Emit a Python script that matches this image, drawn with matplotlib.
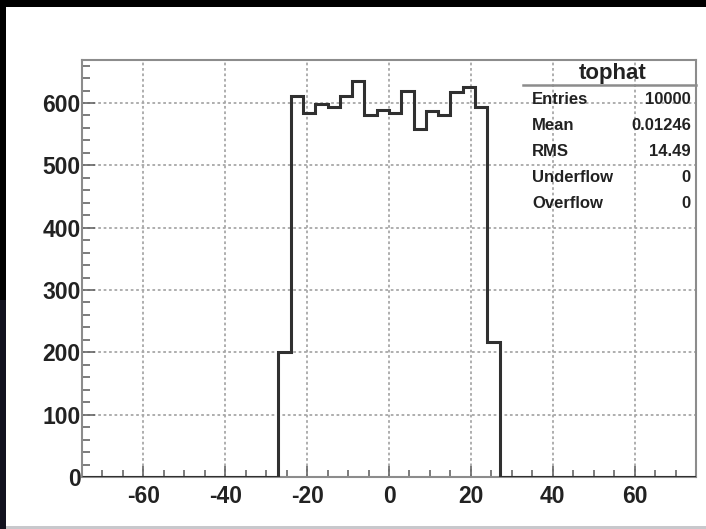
import numpy as np
import matplotlib
matplotlib.use("Agg")
import matplotlib.pyplot as plt
from matplotlib.patches import Rectangle
from matplotlib.lines import Line2D

# ---------------- data ----------------
x_range = (-75, 75)
bin_width = 3
# counts of the non-empty bins from -27 to 27 (18 bins of width 3)
core_counts = [200, 611, 584, 598, 594, 611, 636, 580, 588,
               584, 620, 559, 587, 581, 618, 626, 594, 216]
n_empty_left = 16
n_empty_right = 16
hist_name = "tophat"
stat_labels = ["Entries", "Mean", "RMS", "Underflow", "Overflow"]
stat_values = ["10000", "0.01246", "14.49", "0", "0"]
x_ticks = [-60, -40, -20, 0, 20, 40, 60]
y_ticks = [0, 100, 200, 300, 400, 500, 600]

counts = [0] * n_empty_left + core_counts + [0] * n_empty_right
edges = np.arange(x_range[0], x_range[1] + bin_width, bin_width)

# ---------------- figure ----------------
W, H = 706, 529
fig = plt.figure(figsize=(W / 100, H / 100), dpi=100)
fig.patch.set_facecolor("#000000")

def px_rect(x0, y0, x1, y1, color):
    fig.patches.append(Rectangle((x0 / W, 1 - y1 / H), (x1 - x0) / W, (y1 - y0) / H,
                                 transform=fig.transFigure, facecolor=color,
                                 edgecolor="none", zorder=-10))

px_rect(0, 300, 6, 529, "#12121f")
px_rect(6, 7, 706, 529, "#ffffff")
px_rect(6, 526, 706, 529, "#c8c8cc")

ax_l, ax_r, ax_t, ax_b = 82, 696, 60, 477
ax = fig.add_axes([ax_l / W, 1 - ax_b / H, (ax_r - ax_l) / W, (ax_b - ax_t) / H])
ax.set_facecolor("white")

ax.stairs(counts, edges, color="#303030", linewidth=2.2, zorder=3)

ax.set_xlim(x_range)
ax.set_ylim(0, 669)

ax.set_xticks(x_ticks)
ax.set_xticks(np.arange(-75, 76, 5), minor=True)
ax.set_yticks(y_ticks)
ax.set_yticks(np.arange(0, 669, 20), minor=True)

ax.grid(True, which="major", linestyle=(0, (1.5, 1.5)), linewidth=1.3, color="#a8a8a8", zorder=1)

tick_font = dict(family="Liberation Sans", weight="bold", size=16.5)
ax.set_xticklabels([str(v) for v in x_ticks], **tick_font, color="#222222")
ax.set_yticklabels([str(v) for v in y_ticks], **tick_font, color="#222222")

ax.tick_params(axis="x", which="major", direction="in", length=8, width=1.2, color="#666666", pad=6)
ax.tick_params(axis="x", which="minor", direction="in", length=5, width=1.2, color="#666666")
ax.tick_params(axis="y", which="major", direction="in", length=9, width=1.2, color="#666666", pad=1)
ax.tick_params(axis="y", which="minor", direction="in", length=6, width=1.2, color="#666666")

for s in ax.spines.values():
    s.set_color("#8c8c8c")
    s.set_linewidth(1.5)

# ---------------- stats box ----------------
def fx(px):
    return px / W

def fy(py):
    return 1 - py / H

fig.text(fx(613), fy(73), hist_name, ha="center", va="center",
         family="Liberation Sans", weight="bold", size=16, color="#222222")
fig.lines.append(Line2D([fx(523), fx(696)], [fy(85), fy(85)], transform=fig.transFigure,
                        color="#8c8c8c", linewidth=1.8))
row_y = [100, 126, 151, 177, 203]
for lab, val, yy in zip(stat_labels, stat_values, row_y):
    fig.text(fx(532), fy(yy), lab, ha="left", va="center",
             family="Liberation Sans", weight="bold", size=12, color="#222222")
    fig.text(fx(691), fy(yy), val, ha="right", va="center",
             family="Liberation Sans", weight="bold", size=12, color="#222222")

fig.savefig("out.png", dpi=100, facecolor=fig.get_facecolor())
